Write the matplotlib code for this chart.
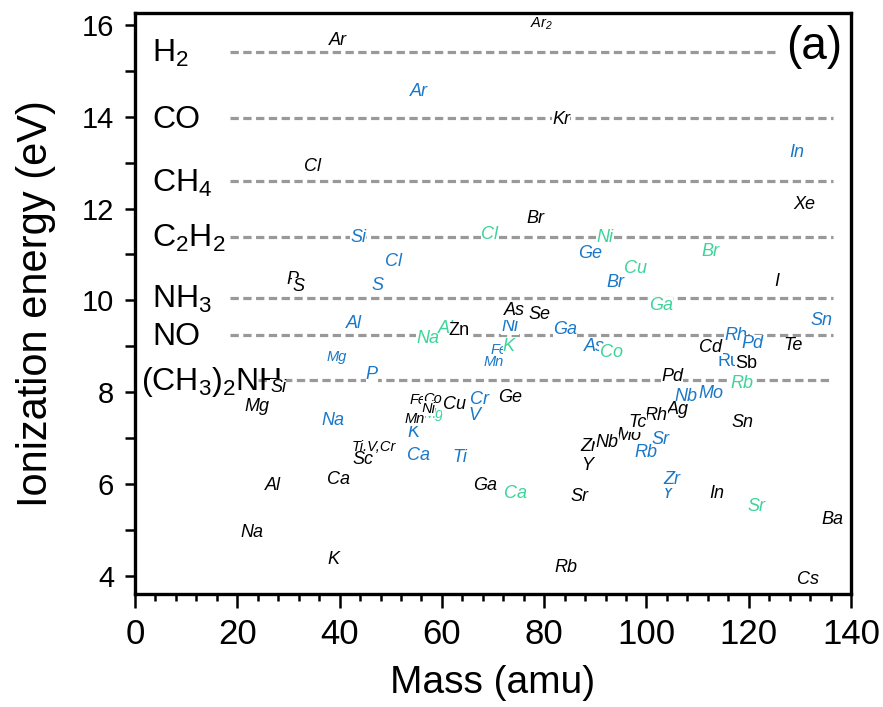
import matplotlib
matplotlib.use("Agg")
import matplotlib.pyplot as plt
from matplotlib.ticker import MultipleLocator

plt.rcParams["font.family"] = ["Liberation Sans", "DejaVu Sans"]
plt.rcParams["mathtext.default"] = "regular"

# molecule ionization energies (eV), drawn as dashed reference lines
mol_names = ["H$_2$", "CO", "CH$_4$", "C$_2$H$_2$", "NH$_3$", "NO", "(CH$_3$)$_2$NH"]
mol_ie = [15.42, 13.98, 12.60, 11.39, 10.06, 9.25, 8.26]
mol_start = [18.5, 18.5, 18.5, 18.5, 18.5, 18.5, 24.0]
mol_end = [125.5, 136.5, 136.5, 136.5, 136.5, 136.5, 136.5]
mol_label_x = [3.3, 3.3, 3.3, 3.3, 3.3, 3.3, 1.2]

# black labels: atoms (mass, ionization energy)
black_names = ["Ar", "Ar$_2$", "Kr", "Cl", "Br", "Xe", "I", "P", "S", "As", "Se",
               "Zn", "Te", "Cd", "Sb", "Pd", "Si", "Mg", "Ge", "Fe", "Co", "Ni",
               "Cu", "Mn", "Ag", "Rh", "Mo", "Tc", "Zr", "Nb", "Y", "Sn",
               "Ti,V,Cr", "Sc", "Ca", "Al", "Ga", "In", "Sr", "Na", "Ba", "K",
               "Rb", "Cs"]
black_x = [39.7, 79.4, 83.3, 34.8, 78.2, 130.8, 125.5, 30.7, 31.9, 74.1, 79.0,
           63.4, 128.7, 112.6, 119.5, 105.0, 28.0, 23.9, 73.3, 55.3, 58.1, 57.3,
           62.4, 54.6, 106.2, 101.9, 96.6, 98.2, 88.8, 92.3, 88.4, 118.7,
           46.7, 44.6, 39.7, 27.0, 68.4, 113.8, 87.0, 22.9, 136.3, 38.7,
           84.3, 131.6]
black_y = [15.67, 16.03, 13.95, 12.91, 11.78, 12.08, 10.40, 10.45, 10.29, 9.77, 9.68,
           9.34, 9.01, 8.97, 8.62, 8.33, 8.10, 7.68, 7.88, 7.83, 7.86, 7.64,
           7.72, 7.42, 7.62, 7.49, 7.06, 7.33, 6.81, 6.90, 6.40, 7.33,
           6.81, 6.53, 6.09, 5.96, 5.96, 5.79, 5.73, 4.93, 5.22, 4.35,
           4.18, 3.91]
black_small = ["Ar$_2$", "Fe", "Co", "Ni", "Mn", "Ti,V,Cr"]

blue_names = ["Ar", "In", "Si", "Cl", "Ge", "S", "Br", "Al", "Ni", "Ga", "Sn",
              "Rh", "Pd", "As", "Mg", "Fe", "Mn", "Ru", "P", "Mo", "Nb", "Na",
              "Cr", "V", "K", "Sr", "Ca", "Ti", "Rb", "Y", "Zr"]
blue_x = [55.5, 129.4, 43.6, 50.6, 89.0, 47.5, 93.9, 42.8, 73.3, 84.1, 134.3,
          117.5, 120.7, 89.9, 39.5, 71.2, 70.2, 116.2, 46.3, 112.6, 107.7, 38.7,
          67.3, 66.3, 54.4, 102.7, 55.5, 63.6, 99.9, 104.0, 105.0]
blue_y = [14.54, 13.21, 11.36, 10.84, 11.03, 10.32, 10.38, 9.49, 9.44, 9.36, 9.55,
          9.23, 9.05, 8.99, 8.77, 8.92, 8.66, 8.66, 8.38, 7.96, 7.90, 7.38,
          7.83, 7.49, 7.11, 6.96, 6.61, 6.57, 6.68, 5.80, 6.09]
blue_small = ["Mg", "Fe", "Mn"]

green_names = ["Cl", "Ni", "Br", "Cu", "Ga", "Na", "Al", "K", "Co", "Mg", "Rb",
               "Ca", "Sr"]
green_x = [69.4, 91.9, 112.6, 97.8, 102.9, 57.3, 60.8, 73.1, 93.1, 58.3, 118.7,
           74.3, 121.6]
green_y = [11.43, 11.36, 11.06, 10.70, 9.88, 9.16, 9.38, 8.99, 8.86, 7.53, 8.18,
           5.79, 5.50]
green_small = ["Mg"]

upright = ["Zn", "Sb", "Ru"]

BLUE = "#1a78c8"
GREEN = "#3dd49a"

fig = plt.figure(figsize=(8.83, 7.07), dpi=100)
ax = fig.add_axes([0.1529, 0.1598, 0.8109, 0.8218])

for name, ie, x0, x1, lx in zip(mol_names, mol_ie, mol_start, mol_end, mol_label_x):
    ax.plot([x0, x1], [ie, ie], color="#999999", lw=2.3, dashes=(2.6, 1.4), zorder=1)
    ax.text(lx, ie - 0.05, name, fontsize=23, ha="left", va="center", zorder=2)


def put_labels(names, xs, ys, color, smalls, z):
    for n, x, y in zip(names, xs, ys):
        size = 10.5 if n in smalls else 13
        style = "normal" if n in upright else "italic"
        ax.text(x, y, n, color=color, fontsize=size, style=style,
                ha="center", va="center", zorder=z,
                bbox=dict(facecolor="white", edgecolor="none", pad=0.1))


put_labels(blue_names, blue_x, blue_y, BLUE, blue_small, 3)
put_labels(green_names, green_x, green_y, GREEN, green_small, 4)
put_labels(black_names, black_x, black_y, "black", black_small, 5)

ax.text(138.3, 15.52, "(a)", fontsize=33, ha="right", va="center")

ax.set_xlim(0, 140)
ax.set_ylim(3.6, 16.26)
ax.xaxis.set_major_locator(MultipleLocator(20))
ax.xaxis.set_minor_locator(MultipleLocator(4))
ax.yaxis.set_major_locator(MultipleLocator(2))
ax.yaxis.set_minor_locator(MultipleLocator(1))
ax.tick_params(axis="both", which="both", direction="out", width=1.8)
ax.tick_params(axis="x", which="major", length=10, labelsize=25, pad=7)
ax.tick_params(axis="x", which="minor", length=5)
ax.tick_params(axis="y", which="both", length=7, labelsize=21, pad=8)
for s in ax.spines.values():
    s.set_linewidth(2.4)
    s.set_zorder(10)

ax.set_xlabel("Mass (amu)", fontsize=28, labelpad=10)
ax.set_ylabel("Ionization energy (eV)", fontsize=30)
ax.yaxis.set_label_coords(-0.11, 0.5)

fig.savefig("out.png", dpi=100)
